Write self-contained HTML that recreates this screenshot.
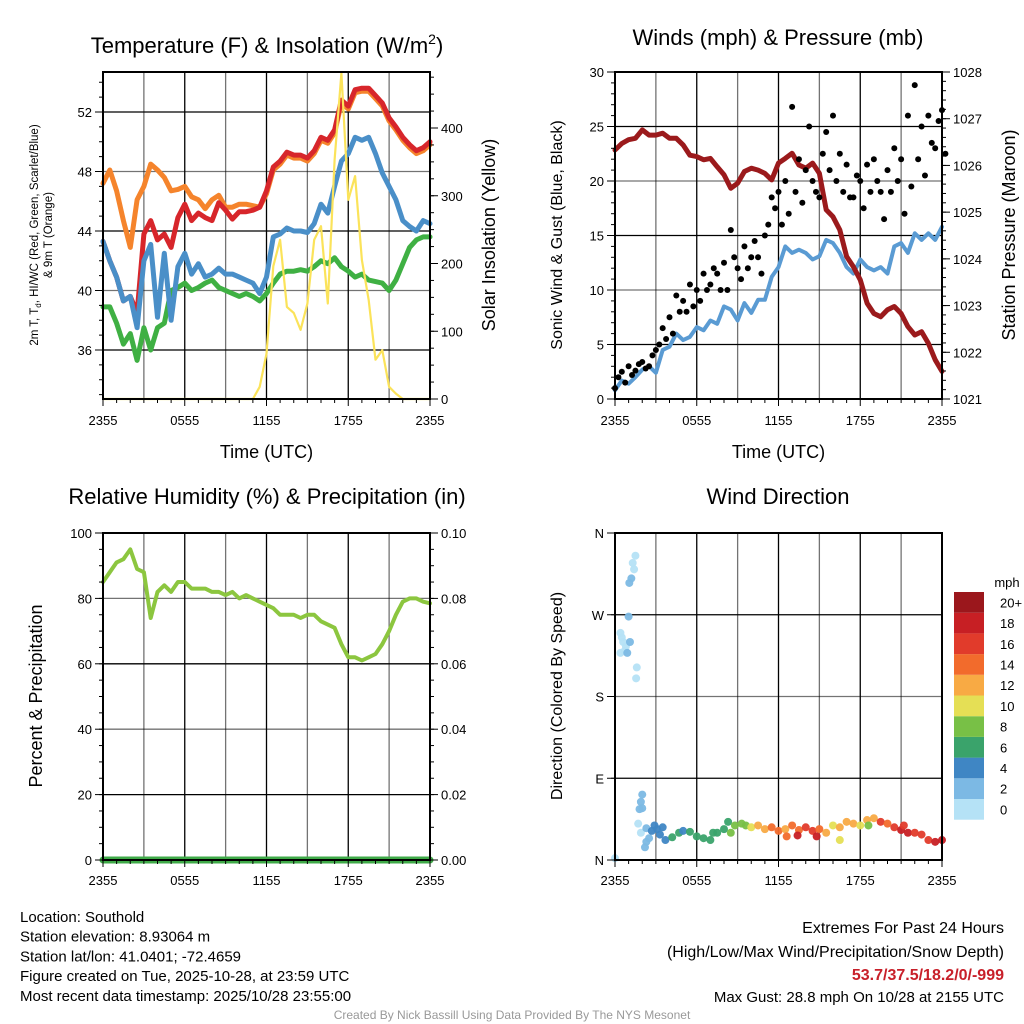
<!DOCTYPE html>
<html><head><meta charset="utf-8"><style>
body{margin:0;background:#fff}
svg{display:block;font-family:"Liberation Sans",Arial,sans-serif}
</style></head><body>
<svg id="fig" width="1024" height="1024" viewBox="0 0 1024 1024">
<rect width="1024" height="1024" fill="#fff"/>
<g id="layer"></g>
</svg>
<script>
// ---------- data ----------
const timeTicks = ["2355","0555","1155","1755","2355"];
const tempRed = [43.3,42.0,40.9,39.3,39.6,38.5,43.8,44.7,43.4,43.8,42.9,44.9,45.8,44.7,45.2,44.9,44.7,45.9,45.4,44.8,45.3,45.3,45.4,45.6,46.7,48.3,48.7,49.3,49.1,49.1,48.9,49.4,50.3,50.1,50.8,52.8,52.4,53.5,53.6,53.6,53.1,52.6,51.6,51.0,50.3,49.8,49.4,49.6,50.0];
const tempOrange = [47.2,48.1,46.7,44.7,42.9,46.1,47.0,48.5,48.1,47.6,46.7,46.8,47.0,46.3,46.1,45.5,46.1,46.4,45.6,45.6,45.8,45.8,45.7,45.6,46.5,48.1,48.5,49.1,48.9,48.9,48.7,49.2,50.1,49.9,50.6,52.6,52.2,53.3,53.4,53.4,52.9,52.4,51.4,50.8,50.1,49.6,49.2,49.4,49.8];
const tempBlue = [43.3,42.0,40.9,39.3,39.6,37.5,42.0,43.1,38.2,42.5,38.0,41.6,42.5,41.1,41.8,40.9,41.1,41.5,41.1,41.1,40.9,40.7,40.5,39.8,40.9,43.6,43.8,44.2,44.0,44.0,43.9,44.5,45.8,45.2,47.0,48.7,49.2,50.3,50.1,50.3,49.2,47.9,47.0,46.1,44.7,44.3,44.0,44.7,44.5];
const tempGreen = [38.9,38.9,37.8,36.4,37.1,35.3,37.5,36.0,37.5,37.8,40.0,40.2,40.5,40.0,40.2,40.5,40.7,40.2,40.0,39.8,39.6,39.8,39.6,39.3,39.8,40.5,41.1,41.3,41.3,41.4,41.3,41.6,42.0,41.8,42.2,41.6,41.3,40.9,41.1,40.7,40.6,40.5,40.0,40.7,41.8,42.9,43.4,43.6,43.6];
const solar = [0,0,0,0,0,0,0,0,0,0,0,0,0,0,0,0,0,0,0,0,0,0,0,18,67,196,235,136,127,102,141,235,255,141,353,481,294,329,205,146,58,72,18,8,0,0,0,0,0];
const tempTicks = [36,40,44,48,52];
const solarTicks = [0,100,200,300,400];
const pressure = [1026.33,1026.47,1026.55,1026.58,1026.76,1026.65,1026.65,1026.69,1026.58,1026.58,1026.44,1026.22,1026.19,1026.12,1026.15,1025.97,1025.80,1025.51,1025.62,1025.87,1025.94,1025.90,1025.83,1025.69,1026.05,1026.15,1026.26,1026.01,1025.94,1026.05,1025.83,1025.05,1024.90,1024.62,1024.05,1023.83,1023.55,1023.05,1022.83,1022.76,1022.91,1022.98,1022.83,1022.55,1022.37,1022.44,1022.19,1021.84,1021.59];
const wind = [0.8,1.7,1.4,2.0,2.7,3.0,2.4,4.5,4.8,6.0,5.4,5.7,6.6,6.3,7.2,6.9,8.5,8.2,7.2,8.8,7.9,9.1,9.1,11.2,12.1,14.0,13.4,13.7,13.4,12.8,13.1,14.6,14.3,13.4,12.1,11.5,12.8,12.1,11.8,12.1,11.5,14.0,14.3,13.4,15.2,14.6,15.2,14.6,15.8];
const gustHigh = [1.0,2.5,3.0,2.6,3.4,3.0,4.5,6.5,7.5,9.5,9.0,10.5,10.0,11.5,10.5,11.5,12.5,15.5,12.0,14.0,13.0,13.0,15.0,18.5,19.0,20.0,26.8,22.0,21.0,20.0,18.5,24.5,26.0,22.5,21.5,18.5,20.0,21.5,22.0,19.0,21.0,23.0,22.0,26.0,28.8,25.0,26.0,23.0,26.5];
const gustLow = [2.0,1.5,2.2,3.2,2.8,4.0,5.0,5.5,6.0,8.0,8.0,8.5,9.0,10.0,12.0,10.0,10.0,13.0,11.0,12.0,14.5,11.5,16.0,17.5,16.0,17.0,19.0,18.0,25.0,19.0,22.5,21.0,20.0,19.0,18.5,20.5,17.5,19.0,20.0,16.5,19.0,20.0,17.0,19.5,22.0,20.5,23.5,25.5,22.5];
const windTicks = [0,5,10,15,20,25,30];
const presTicks = [1021,1022,1023,1024,1025,1026,1027,1028];
const rh = [85,88,91,92,95,89,88,74,82,84,82,85,85,83,83,83,82,82,81,82,80,81,80,79,78,77,75,75,75,74,75,75,73,72,71,66,62,62,61,62,63,66,70,75,79,80,80,79,78.5];
const precip = [0,0,0,0,0,0,0,0,0,0,0,0,0,0,0,0,0,0,0,0,0,0,0,0,0,0,0,0,0,0,0,0,0,0,0,0,0,0,0,0,0,0,0,0,0,0,0,0,0];
const rhTicks = [0,20,40,60,80,100];
const precipTicks = ["0.00","0.02","0.04","0.06","0.08","0.10"];
const wdHour = [0.0,1.5,1.3,1.4,1.2,1.05,1.0,0.5,0.6,0.8,0.4,0.7,0.9,1.1,1.6,1.55,0.4,2.0,1.9,2.0,1.8,1.7,1.9,2.3,2.3,2.2,2.5,2.7,2.9,3.1,3.3,3.7,3.5,4.2,4.7,5.0,5.5,6.0,6.5,7.0,7.5,8.0,8.3,8.8,9.3,9.6,10.0,10.5,11.0,11.5,12.0,12.5,13.0,13.5,14.0,14.5,15.0,15.5,16.0,16.5,17.0,17.5,18.0,18.5,19.0,19.5,20.0,20.5,21.0,21.5,22.0,22.5,23.0,23.5,24.0,16.5,12.6,14.8,21.2,18.6,13.4,8.5,7.2];
const wdDir = [2,335,327,320,310,305,268,245,240,235,228,230,228,240,212,200,250,72,64,57,56,40,30,35,20,14,24,32,38,34,28,22,36,25,30,32,31,26,24,22,30,34,42,38,40,38,36,38,34,36,32,34,38,33,36,32,34,30,38,36,42,40,38,44,46,42,40,36,33,30,30,28,22,20,22,22,26,26,38,38,27,30,30];
const wdSpd = [1,1,1,1,3,3,3,1,1,1,1,1,3,3,1,1,1,3,3,3,3,1,1,3,3,3,3,4,4,4,4,5,4,6,6,5,6,6,6,7,7,7,6,8,8,8,10,12,12,14,15,13,14,14,16,17,15,12,10,13,13,12,10,13,12,17,15,16,18,19,16,16,17,18,19,10,15,18,17,9,19,8,6];
const spdLabels = ["0","2","4","6","8","10","12","14","16","18","20+"];
const spdColors = ["#b5e2f6","#7cb9e4","#3f86c4","#3aa36b","#78c046","#e5df55","#f8aa44","#f26b2c","#e13b2b","#c71f24","#9b171c"];

// ---------- helpers ----------
const NS="http://www.w3.org/2000/svg";
const layer=document.getElementById('layer');
function mk(tag,attrs,parent){const e=document.createElementNS(NS,tag);for(const k in attrs)e.setAttribute(k,attrs[k]);(parent||layer).appendChild(e);return e;}
function txt(s,x,y,size,anchor,parent,extra){const t=mk('text',Object.assign({x:x,y:y,'font-size':size,'text-anchor':anchor||'middle',fill:'#000'},extra||{}),parent);t.textContent=s;return t;}
function lin(d0,d1,r0,r1){return v=>r0+(v-d0)*(r1-r0)/(d1-d0);}

function panel(name,x0,x1,y0,y1){
  const g=mk('g',{});
  
  
  return {g,x0,x1,y0,y1,xs:lin(0,24,x0,x1)};
}
function grid(p){
  const gg=mk('g',{},p.g);
  
  
  for(let h=3;h<24;h+=3){mk('line',{x1:p.xs(h),x2:p.xs(h),y1:p.y0,y2:p.y1,stroke:'#000','stroke-width':1.3,'stroke-opacity':h%6?0.55:1},gg);}
  return gg;
}
function hgrid(p,ys){
  ys.forEach((y,i)=>mk('line',{x1:p.x0,x2:p.x1,y1:y,y2:y,stroke:'#000','stroke-width':1.3,'stroke-opacity':i%2?0.55:1},p.g));
}
function frame(p){
  const r=mk('rect',{x:p.x0,y:p.y0,width:p.x1-p.x0,height:p.y1-p.y0,fill:'none',stroke:'#000','stroke-width':2},p.g);
  
  
}
function xaxis(p,labelY,title){
  const ax=mk('g',{},p.g);
  
  
  for(let h=0;h<=24;h+=1){const big=h%6===0;mk('line',{x1:p.xs(h),x2:p.xs(h),y1:p.y1,y2:p.y1+(big?7:4),stroke:'#000','stroke-width':1},ax);}
  timeTicks.forEach((s,i)=>txt(s,p.xs(i*6),labelY,13,'middle',ax));
  if(title){const t=txt(title,(p.x0+p.x1)/2,labelY+33,18,'middle',ax);
    
    }
}
function yticks(p,side,vals,labels,scale,minorStep,lo,hi){
  const ax=mk('g',{},p.g);
  
  
  const xe=side==='left'?p.x0:p.x1, dir=side==='left'?-1:1;
  for(let v=lo;v<=hi+1e-9;v+=minorStep){const y=scale(v);if(y<p.y0-0.5||y>p.y1+0.5)continue;mk('line',{x1:xe,x2:xe+dir*4,y1:y,y2:y,stroke:'#000','stroke-width':1},ax);}
  vals.forEach((v,i)=>{const y=scale(v);mk('line',{x1:xe,x2:xe+dir*8,y1:y,y2:y,stroke:'#000','stroke-width':1},ax);
    txt(labels[i],xe+dir*11,y+5,13,side==='left'?'end':'start',ax);});
}
function vtitle(s,x,y,size,parent,name){
  const t=txt(s,x,y,size,'middle',parent,{transform:`rotate(-90 ${x} ${y})`});
  
  
  return t;
}
function title(s,x,y,parent){const t=txt(s,x,y,22,'middle',parent);
  
  return t;}
function series(p,arr,ys,color,w,name){
  const pts=arr.map((v,i)=>p.xs(i*0.5).toFixed(1)+','+ys(v).toFixed(1)).join(' ');
  const pl=mk('polyline',{points:pts,fill:'none',stroke:color,'stroke-width':w,'stroke-linejoin':'round','stroke-linecap':'round'},p.g);
  
  
  return pl;
}

// ---------- Panel 1: temperature ----------
const p1=panel('temperature-panel',103,430,72,399);
const tY=lin(36,52,350,112), sY=lin(0,400,399,128);
grid(p1); hgrid(p1,tempTicks.map(tY));
series(p1,tempOrange,tY,'#f5842c',5,'series-9m-temp');
series(p1,tempGreen,tY,'#3fb043',5,'series-dewpoint');
series(p1,tempRed,tY,'#d7262b',5,'series-2m-temp');
series(p1,tempBlue,tY,'#4a8fc8',5,'series-wind-chill');
series(p1,solar,sY,'#fbe35a',2.2,'series-solar-insolation');
frame(p1);
yticks(p1,'left',tempTicks,tempTicks.map(String),tY,1,33,55);
yticks(p1,'right',solarTicks,solarTicks.map(String),sY,25,0,475);
xaxis(p1,425,'Time (UTC)');
const t1=mk('text',{x:267,y:53,'font-size':22,'text-anchor':'middle'},p1.g);


t1.innerHTML='Temperature (F) &amp; Insolation (W/m<tspan dy="-9" font-size="14">2</tspan><tspan dy="9">)</tspan>';
const yl=mk('text',{x:38,y:235,'font-size':11.5,'text-anchor':'middle',transform:'rotate(-90 38 235)'},p1.g);


yl.innerHTML='2m T, T<tspan dy="3" font-size="8">d</tspan><tspan dy="-3">, HI/WC (Red, Green, Scarlet/Blue)</tspan>';
vtitle('& 9m T (Orange)',52,235,11.5,p1.g,'y-axis-title-left-line2');
vtitle('Solar Insolation (Yellow)',495,235,18,p1.g,'y-axis-title-right');

// ---------- Panel 2: winds ----------
const p2=panel('winds-panel',615,942,72,399);
const wY=lin(0,30,399,72), pY=lin(1021,1028,399,72);
grid(p2); hgrid(p2,[5,10,15,20,25].map(wY));
series(p2,wind,wY,'#5a9bd3',4,'series-sonic-wind');
series(p2,pressure,pY,'#9b1a1c',5,'series-pressure');
const gg=mk('g',{},p2.g);


gustHigh.forEach((v,i)=>{const c=mk('circle',{cx:p2.xs(i*0.5),cy:wY(v),r:3,fill:'#000'},gg);
  
  });
gustLow.forEach((v,i)=>{const c=mk('circle',{cx:p2.xs(i*0.5+0.25),cy:wY(v),r:3,fill:'#000'},gg);
  
  });
frame(p2);
yticks(p2,'left',windTicks,windTicks.map(String),wY,1,0,30);
yticks(p2,'right',presTicks,presTicks.map(String),pY,0.2,1021,1028);
xaxis(p2,425,'Time (UTC)');
title('Winds (mph) & Pressure (mb)',778,45,p2.g);
vtitle('Sonic Wind & Gust (Blue, Black)',562,235,16,p2.g,'y-axis-title-left');
vtitle('Station Pressure (Maroon)',1015,235,18,p2.g,'y-axis-title-right');

// ---------- Panel 3: humidity ----------
const p3=panel('humidity-panel',103,430,533,860);
const rY=lin(0,100,860,533), prY=lin(0,0.1,860,533);
grid(p3); hgrid(p3,[20,40,60,80].map(rY));
series(p3,precip,prY,'#3faa48',7,'series-precipitation');
series(p3,rh,rY,'#8cc63f',4,'series-relative-humidity');
frame(p3);
yticks(p3,'left',rhTicks,rhTicks.map(String),rY,5,0,100);
yticks(p3,'right',[0,0.02,0.04,0.06,0.08,0.1],precipTicks,prY,0.005,0,0.1);
xaxis(p3,885,null);
title('Relative Humidity (%) & Precipitation (in)',267,504,p3.g);
vtitle('Percent & Precipitation',42,696,18,p3.g,'y-axis-title-left');

// ---------- Panel 4: wind direction ----------
const p4=panel('wind-direction-panel',615,942,533,860);
const dY=lin(0,360,860,533);
grid(p4); hgrid(p4,[90,180,270].map(dY));
const dg=mk('g',{},p4.g);


function spdColor(s){return spdColors[Math.min(10,Math.floor(s/2))];}
wdHour.forEach((h,i)=>{const c=mk('circle',{cx:p4.xs(h),cy:dY(wdDir[i]),r:4,fill:spdColor(wdSpd[i]),'fill-opacity':0.95},dg);
  
  });
frame(p4);
yticks(p4,'left',[0,90,180,270,360],['N','E','S','W','N'],dY,90,0,360);
xaxis(p4,885,null);
title('Wind Direction',778,504,p4.g);
vtitle('Direction (Colored By Speed)',562,696,16,p4.g,'y-axis-title-left');
// colorbar
const cb=mk('g',{},p4.g);


const cbTop=592,cbH=20.7;
spdLabels.forEach((s,i)=>{const y=cbTop+(10-i)*cbH;
  const r=mk('rect',{x:954,y:y,width:30,height:cbH,fill:spdColors[i]},cb);
  
  
  txt(s,1000,y+cbH/2+5,13,'start',cb);});
txt('mph',1007,587,13,'middle',cb);

// ---------- footer ----------
const fl=mk('g',{});


["Location: Southold","Station elevation: 8.93064 m","Station lat/lon: 41.0401; -72.4659","Figure created on Tue, 2025-10-28, at 23:59 UTC","Most recent data timestamp: 2025/10/28 23:55:00"].forEach((s,i)=>txt(s,20,922+i*19.7,15,'start',fl));
const fr=mk('g',{});


txt('Extremes For Past 24 Hours',1004,933,16,'end',fr);
txt('(High/Low/Max Wind/Precipitation/Snow Depth)',1004,957,16,'end',fr);
txt('53.7/37.5/18.2/0/-999',1004,980,16,'end',fr,{fill:'#c8202a','font-weight':'bold'});
txt('Max Gust: 28.8 mph On 10/28 at 2155 UTC',1004,1002,15,'end',fr);
const cr=txt('Created By Nick Bassill Using Data Provided By The NYS Mesonet',512,1019,12,'middle',null,{fill:'#999'});


</script>
</body></html>
